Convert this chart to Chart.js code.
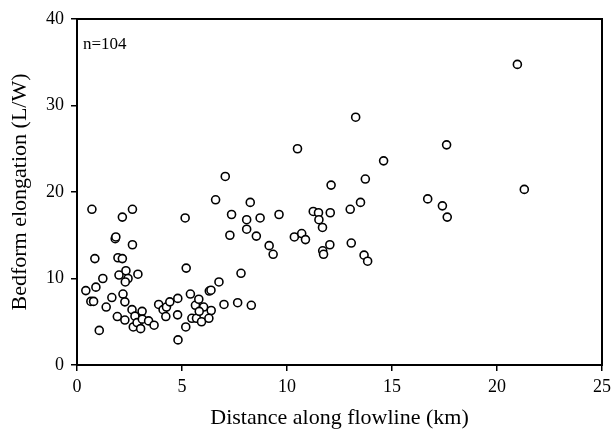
<!DOCTYPE html>
<html>
<head>
<meta charset="utf-8">
<script src="https://cdn.jsdelivr.net/npm/chart.js@4"></script>
<style>
  html, body { margin: 0; padding: 0; background: #fff; }
  #chart { display: block; }
</style>
</head>
<body>
<canvas id="chart" width="611" height="431"></canvas>
<script>
// Distance along flowline (km) et elongation L/W
const distanceKm = [
    0.71, 2.64, 2.16, 5.15, 1.82, 1.85, 2.64, 0.85, 1.95, 2.16,
    5.20, 2.33, 2.00, 2.90, 1.23, 2.43, 2.30, 0.90, 0.42, 2.19,
    5.40, 0.66, 0.79, 1.66, 1.39, 2.28, 2.62, 3.10, 1.92, 2.28,
    2.76, 2.68, 2.86, 3.03, 3.11, 3.41, 3.67, 1.06, 3.89, 4.10,
    4.26, 4.42, 4.23, 4.80, 4.79, 4.81, 5.18, 5.64, 5.47, 5.80,
    5.69, 10.50, 7.06, 6.60, 8.25, 7.36, 9.62, 8.08, 8.72, 7.28,
    8.08, 8.54, 9.15, 9.34, 10.35, 10.70, 10.88, 11.25, 11.50, 11.52,
    11.69, 11.70, 11.74, 12.10, 12.06, 12.04, 7.81, 6.76, 6.30, 6.38,
    7.00, 7.65, 8.30, 6.03, 5.82, 6.39, 5.93, 6.28, 13.27, 17.60,
    14.60, 13.73, 13.50, 13.01, 16.70, 17.40, 17.63, 13.06, 13.67, 13.84,
    20.97, 21.30
];
const elongation = [
    18.0, 18.0, 17.1, 17.0, 14.6, 14.8, 13.9, 12.3, 12.4, 12.3,
    11.2, 10.9, 10.4, 10.5, 10.0, 10.0, 9.6, 9.0, 8.6, 8.2,
    8.2, 7.35, 7.35, 7.8, 6.7, 7.3, 6.4, 6.2, 5.6, 5.2,
    5.65, 4.4, 4.9, 4.2, 5.3, 5.1, 4.6, 4.0, 7.0, 6.4,
    6.7, 7.3, 5.6, 7.7, 5.8, 2.9, 4.4, 6.9, 5.4, 7.6,
    5.4, 25.0, 21.8, 19.1, 18.8, 17.4, 17.4, 16.8, 17.0, 15.0,
    15.7, 14.9, 13.8, 12.8, 14.8, 15.2, 14.5, 17.75, 17.6, 16.8,
    15.9, 13.2, 12.8, 20.8, 17.6, 13.9, 10.6, 9.6, 8.55, 8.65,
    7.0, 7.2, 6.9, 6.7, 6.2, 6.3, 5.0, 5.4, 28.65, 25.45,
    23.6, 21.5, 18.8, 18.0, 19.2, 18.4, 17.1, 14.1, 12.7, 12.0,
    34.75, 20.3
];
const xTicks = [0, 5, 10, 15, 20, 25];
const yTicks = [0, 10, 20, 30, 40];
const sampleLabel = 'n=104';

const serif = '"Liberation Serif", "DejaVu Serif", serif';

const points = distanceKm.map((d, i) => ({ x: d, y: elongation[i] }));

// Cadre complet autour de la zone du graphique + annotation n=
const framePlugin = {
    id: 'frame',
    afterDraw(chart) {
        const { ctx, chartArea } = chart;
        ctx.save();
        ctx.strokeStyle = '#000';
        ctx.lineWidth = 2;
        ctx.strokeRect(chartArea.left, chartArea.top,
            chartArea.right - chartArea.left, chartArea.bottom - chartArea.top);
        ctx.fillStyle = '#000';
        ctx.font = '17px ' + serif;
        ctx.textBaseline = 'alphabetic';
        ctx.textAlign = 'left';
        ctx.fillText(sampleLabel, chartArea.left + 6, chartArea.top + 30);
        ctx.restore();
    }
};

new Chart(document.getElementById('chart'), {
    type: 'scatter',
    data: {
        datasets: [{
            data: points,
            pointStyle: 'circle',
            pointRadius: 4,
            pointHoverRadius: 4,
            pointBorderWidth: 1.6,
            borderColor: '#000',
            backgroundColor: '#fff'
        }]
    },
    options: {
        responsive: false,
        animation: false,
        layout: { padding: { top: 19, right: 9, left: 0, bottom: 0 } },
        plugins: {
            legend: { display: false },
            tooltip: { enabled: false }
        },
        scales: {
            x: {
                type: 'linear',
                min: 0,
                max: 25,
                afterFit: (scale) => {
                    scale.height = 66;
                    // le label "25" peut deborder du canvas comme sur l'original
                    scale.paddingLeft = 0;
                    scale.paddingRight = 0;
                },
                afterBuildTicks: (scale) => { scale.ticks = xTicks.map(v => ({ value: v })); },
                grid: { drawOnChartArea: false, drawTicks: true, tickLength: 6, color: '#000', lineWidth: 1.5 },
                border: { display: true, color: '#000', width: 2 },
                ticks: { color: '#000', padding: 5, font: { family: serif, size: 18 }, maxRotation: 0 },
                title: {
                    display: true,
                    text: 'Distance along flowline (km)',
                    color: '#000',
                    font: { family: serif, size: 22 },
                    padding: { top: 0, bottom: 0 }
                }
            },
            y: {
                type: 'linear',
                min: 0,
                max: 40,
                afterFit: (scale) => { scale.width = 77; },
                afterBuildTicks: (scale) => { scale.ticks = yTicks.map(v => ({ value: v })); },
                grid: { drawOnChartArea: false, drawTicks: true, tickLength: 6, color: '#000', lineWidth: 1.5 },
                border: { display: true, color: '#000', width: 2 },
                ticks: { color: '#000', padding: 7, font: { family: serif, size: 18 } },
                title: {
                    display: true,
                    text: 'Bedform elongation (L/W)',
                    color: '#000',
                    font: { family: serif, size: 22 },
                    padding: { top: 7, bottom: 0 }
                }
            }
        }
    },
    plugins: [framePlugin]
});
</script>
</body>
</html>
